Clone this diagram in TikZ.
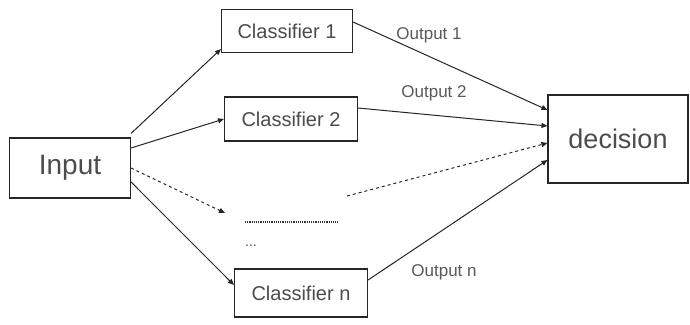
\documentclass[tikz,border=0pt]{standalone}
\usepackage{fontspec}
\setmainfont{Liberation Sans}
\usetikzlibrary{arrows.meta}
\begin{document}
\begin{tikzpicture}[x=1pt,y=-1pt,
  box/.style={draw=black!85,line width=1.1pt,inner sep=0pt,text=black!70},
  conn/.style={draw=black!85,line width=1pt,-{Triangle[length=6pt,width=5pt]}},
  lbl/.style={text=black!65,font=\fontsize{17}{17}\selectfont,inner sep=0pt}]
\useasboundingbox (0,0) rectangle (690,324);
\fill[white] (0,0) rectangle (690,324);
\node[box,minimum width=121pt,minimum height=60pt,font=\fontsize{28}{28}\selectfont] (in) at (70,168) {Input};
\node[box,minimum width=131pt,minimum height=43pt,font=\fontsize{20}{20}\selectfont] (c1) at (287,31) {Classifier 1};
\node[box,minimum width=133pt,minimum height=44pt,font=\fontsize{20}{20}\selectfont] (c2) at (291,119) {Classifier 2};
\node[box,minimum width=133pt,minimum height=48pt,font=\fontsize{20}{20}\selectfont] (cn) at (301,293) {Classifier n};
\node[box,minimum width=140pt,minimum height=88pt,font=\fontsize{27}{27}\selectfont] (dec) at (618,139) {decision};
\coordinate (dend) at (225,213);
\coordinate (ds) at (245,222);
\coordinate (de) at (338,222);
\coordinate (dstart) at (347,196);
\node[text=black!70,font=\fontsize{14}{14}\selectfont,inner sep=0pt] (dots) at (251,246) {...};
\draw[black!80,line width=1.2pt,densely dotted] (ds) -- (de);
\draw[conn] ([yshift=4pt]in.north east) -- ([yshift=4pt]c1.south west);
\draw[conn] ([yshift=20pt]in.east) -- (c2.west);
\draw[conn,dashed] (in.east) -- (dend);
\draw[conn] ([yshift=-14pt]in.east) -- ([yshift=8pt]cn.west);
\draw[conn] ([yshift=9pt]c1.east) -- ([yshift=29pt]dec.west);
\draw[conn] ([yshift=11pt]c2.east) -- ([yshift=13pt]dec.west);
\draw[conn,dashed] (dstart) -- ([yshift=-4pt]dec.west);
\draw[conn] ([yshift=13pt]cn.east) -- ([yshift=-21pt]dec.west);
\node[lbl] (o1) at (429,35) {Output 1};
\node[lbl] (o2) at (434,93) {Output 2};
\node[lbl] (on) at (444,272) {Output n};
\end{tikzpicture}
\end{document}
